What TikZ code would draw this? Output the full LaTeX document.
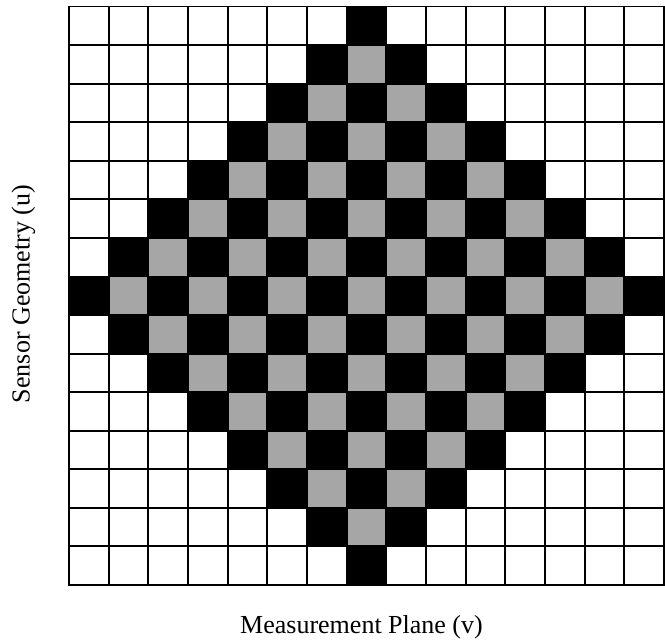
\documentclass[tikz,border=0pt]{standalone}
\usepackage{fontspec}
\setmainfont{Liberation Serif}
\definecolor{cellgray}{RGB}{166,166,166}
\begin{document}
\begin{tikzpicture}[x=1pt,y=-1pt,
  gridline/.style={line width=1.9pt,black},
  blackcell/.style={fill=black},
  graycell/.style={fill=cellgray},
  axislabel/.style={font=\fontsize{26}{30}\selectfont,inner sep=0pt}]
\useasboundingbox (0,0) rectangle (665,640);
\def\gx{69}\def\gy{6.5}\def\cw{39.667}\def\ch{38.567}
\foreach \r in {0,...,14}{
  \foreach \c in {0,...,14}{
    \pgfmathtruncatemacro\dd{abs(\c-7)+abs(\r-7)}
    \pgfmathtruncatemacro\pp{mod(\c+\r,2)}
    \ifnum\dd<8
      \ifnum\pp=1
        \fill[blackcell] ({\gx+\c*\cw},{\gy+\r*\ch}) rectangle ++(\cw,\ch);
      \else
        \fill[graycell] ({\gx+\c*\cw},{\gy+\r*\ch}) rectangle ++(\cw,\ch);
      \fi
    \fi
  }
}
\foreach \i in {0,...,15}{
  \draw[gridline] ({\gx+\i*\cw},\gy) -- ({\gx+\i*\cw},{\gy+15*\ch});
  \draw[gridline] (\gx,{\gy+\i*\ch}) -- ({\gx+15*\cw},{\gy+\i*\ch});
}
\draw[gridline,line cap=rect] (\gx,\gy) rectangle ({\gx+15*\cw},{\gy+15*\ch});
\node[axislabel,rotate=90,anchor=base] (ylabel) at (29.5,294) {Sensor Geometry (u)};
\node[axislabel,anchor=base] (xlabel) at (361.5,633) {Measurement Plane (v)};
\end{tikzpicture}
\end{document}
